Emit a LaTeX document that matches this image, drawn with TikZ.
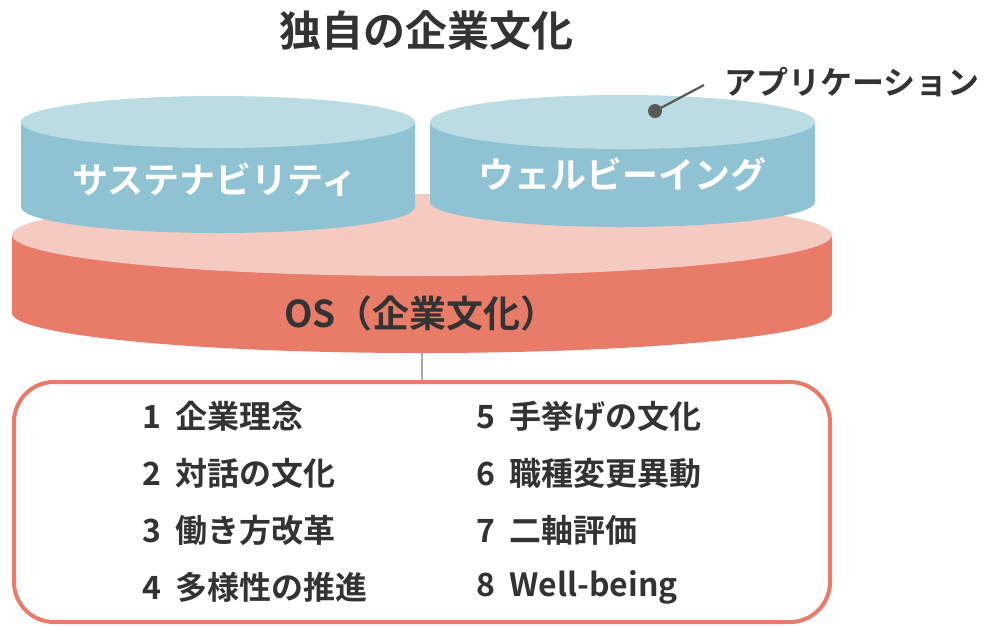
\documentclass[tikz,border=0pt]{standalone}
\usepackage{fontspec}
\setmainfont{Noto Sans CJK JP}[BoldFont=* Bold]
\definecolor{bluetop}{HTML}{BCDCE3}
\definecolor{blueside}{HTML}{8FC3D3}
\definecolor{pinktop}{HTML}{F5CBC1}
\definecolor{pinkside}{HTML}{E97C69}
\definecolor{ink}{HTML}{333333}
\definecolor{dotc}{HTML}{595959}
\definecolor{linec}{HTML}{AAAAAA}
\tikzset{
  txt/.style={inner sep=0pt, text=ink, font=\bfseries\fontsize{#1}{#1}\selectfont},
  wtxt/.style={inner sep=0pt, text=white, font=\bfseries\fontsize{#1}{#1}\selectfont},
  item/.style={txt=32, anchor=west},
}
\newcommand{\cyl}[8]{% cx, rx, topcy, topry, botcy, botry, topcolor, sidecolor
  \fill[#8] (#1-#2,#3) -- (#1-#2,#5) arc[start angle=180, end angle=360, x radius=#2, y radius=-#6] -- (#1+#2,#3) -- cycle;
  \fill[#7] (#1,#3) ellipse[x radius=#2, y radius=#4];
}
\newcommand{\gap}{\hspace{0.45em}}
\begin{document}
\begin{tikzpicture}[x=1pt,y=-1pt]
\useasboundingbox (0,0) rectangle (985,625);
\fill[white] (0,0) rectangle (985,625);
% title
\node[txt=42] (title) at (426,31) {独自の企業文化};
% OS cylinder
\cyl{422}{410}{235}{41}{313}{40}{pinktop}{pinkside}
% blue cylinders
\cyl{218}{197}{122}{26}{207}{26}{bluetop}{blueside}
\cyl{622.5}{192.5}{122}{27}{202}{25}{bluetop}{blueside}
\node[wtxt=36] (sus) at (215,180) {サステナビリティ};
\node[wtxt=36] (well) at (622,175) {ウェルビーイング};
\node[txt=37] (os) at (421,313) {OS（企業文化）};
% application label
\node[txt=32, anchor=west] (app) at (724,82) {アプリケーション};
\fill[dotc] (655,111) circle[radius=7];
\coordinate (dot) at (655,111);
\coordinate (dotend) at (704,85);
\draw[dotc, line width=2.2pt] (dot) -- (dotend);
% box
\node[draw=pinkside, line width=4pt, rounded corners=40pt, minimum width=816pt, minimum height=240pt, inner sep=0pt] (box) at (422,502) {};
\coordinate (osbot) at (422,353);
\draw[linec, line width=1.5pt] (osbot) -- (box.north);
% items
\node[item] (i1) at (142,416) {1\gap 企業理念};
\node[item] (i2) at (142,473) {2\gap 対話の文化};
\node[item] (i3) at (142,530) {3\gap 働き方改革};
\node[item] (i4) at (142,587) {4\gap 多様性の推進};
\node[item] (i5) at (476,416) {5\gap 手挙げの文化};
\node[item] (i6) at (476,473) {6\gap 職種変更異動};
\node[item] (i7) at (476,530) {7\gap 二軸評価};
\node[item] (i8) at (476,587) {8\gap Well-being};
\end{tikzpicture}
\end{document}
